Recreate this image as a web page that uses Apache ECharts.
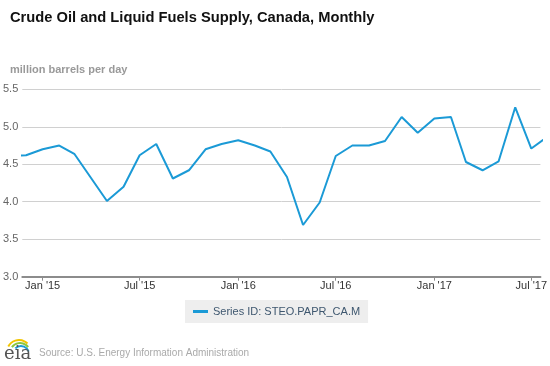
<!DOCTYPE html>
<html>
<head>
<meta charset="utf-8">
<script src="https://cdn.jsdelivr.net/npm/echarts@6/dist/echarts.min.js"></script>
<style>
html,body{margin:0;padding:0;background:#fff;}
#c{width:550px;height:366px;}
</style>
</head>
<body>
<div id="c"></div>
<script>
// Months (year, monthIndex 0-based) and values, million barrels per day
var months = [
  [2014,10],[2014,11],
  [2015,0],[2015,1],[2015,2],[2015,3],[2015,4],[2015,5],[2015,6],[2015,7],[2015,8],[2015,9],[2015,10],[2015,11],
  [2016,0],[2016,1],[2016,2],[2016,3],[2016,4],[2016,5],[2016,6],[2016,7],[2016,8],[2016,9],[2016,10],[2016,11],
  [2017,0],[2017,1],[2017,2],[2017,3],[2017,4],[2017,5],[2017,6],[2017,7]
];
var values = [
  4.61, 4.62,
  4.70, 4.75, 4.64, 4.32, 4.01, 4.20, 4.62, 4.77, 4.31, 4.42, 4.70, 4.77,
  4.82, 4.75, 4.67, 4.33, 3.69, 3.99, 4.61, 4.75, 4.75, 4.81, 5.13, 4.92,
  5.11, 5.13, 4.53, 4.42, 4.54, 5.26, 4.71, 4.87
];
var tickMonths = [[2015,0],[2015,6],[2016,0],[2016,6],[2017,0],[2017,6]];
var monthNames = ['Jan','Feb','Mar','Apr','May','Jun','Jul','Aug','Sep','Oct','Nov','Dec'];
var seriesName = 'Series ID: STEO.PAPR_CA.M';

function ts(ym, d) { return new Date(ym[0], ym[1], d || 1).getTime(); }
var data = months.map(function (m, i) { return [ts(m), values[i]]; });
var tickValues = tickMonths.map(function (m) { return ts(m); });

var chart = echarts.init(document.getElementById('c'), null, {renderer: 'canvas'});
chart.setOption({
  animation: false,
  backgroundColor: '#fff',
  title: {
    text: 'Crude Oil and Liquid Fuels Supply, Canada, Monthly',
    left: 10, top: 10,
    textStyle: {fontFamily: 'Liberation Sans', fontSize: 14.7, fontWeight: 'bold', color: '#111'},
    subtext: 'million barrels per day',
    subtextStyle: {fontFamily: 'Liberation Sans', fontSize: 11, fontWeight: 'bold', color: '#999'},
    itemGap: 39,
    padding: 0
  },
  grid: {left: 20, right: 9, top: 89.3, bottom: 89.3, containLabel: false},
  xAxis: {
    type: 'value',
    min: new Date(2014, 10, 24).getTime(),
    max: new Date(2017, 6, 18).getTime(),
    axisLine: {show: true, lineStyle: {color: '#8c8c8c', width: 2}},
    axisTick: {show: true, length: 4, customValues: tickValues, lineStyle: {color: '#8c8c8c', width: 1}},
    axisLabel: {
      customValues: tickValues,
      fontFamily: 'Liberation Sans', fontSize: 11, color: '#333', margin: 4,
      formatter: function (v) {
        var d = new Date(v);
        return monthNames[d.getMonth()] + " '" + String(d.getFullYear()).slice(2);
      }
    },
    splitLine: {show: false}
  },
  yAxis: {
    type: 'value', min: 3, max: 5.5, interval: 0.5,
    axisLine: {show: false}, axisTick: {show: false},
    axisLabel: {fontFamily: 'Liberation Sans', fontSize: 11, color: '#666', margin: 4,
      formatter: function (v) { return v.toFixed(1); }},
    splitLine: {lineStyle: {color: '#d0d0d0', width: 1}}
  },
  legend: {
    left: 185, top: 300,
    backgroundColor: '#eeeeee',
    padding: [6, 8, 6, 8],
    icon: 'rect', itemWidth: 15, itemHeight: 3,
    textStyle: {fontFamily: 'Liberation Sans', fontSize: 11, color: '#3e576f'},
    data: [seriesName]
  },
  series: [{
    name: seriesName,
    type: 'line',
    data: data,
    showSymbol: false,
    symbol: 'none',
    clip: true,
    lineStyle: {color: '#1b9ad6', width: 2},
    itemStyle: {color: '#1b9ad6'}
  }],
  graphic: [
    {type: 'arc', shape: {cx: 19, cy: 352, r: 12, startAngle: Math.PI * 1.15, endAngle: Math.PI * 1.75}, style: {stroke: '#f2c500', lineWidth: 2, fill: null}},
    {type: 'arc', shape: {cx: 20, cy: 353, r: 10, startAngle: Math.PI * 1.2, endAngle: Math.PI * 1.8}, style: {stroke: '#8cc63f', lineWidth: 2, fill: null}},
    {type: 'arc', shape: {cx: 21, cy: 354, r: 8, startAngle: Math.PI * 1.25, endAngle: Math.PI * 1.9}, style: {stroke: '#1b9ad6', lineWidth: 2, fill: null}},
    {type: 'text', left: 4, top: 345, style: {text: 'eia', font: '18px "DejaVu Serif"', fill: '#555'}},
    {type: 'text', left: 39, top: 348, style: {text: 'Source: U.S. Energy Information Administration', font: '10px "Liberation Sans"', fill: '#aaa'}}
  ]
});
</script>
</body>
</html>
